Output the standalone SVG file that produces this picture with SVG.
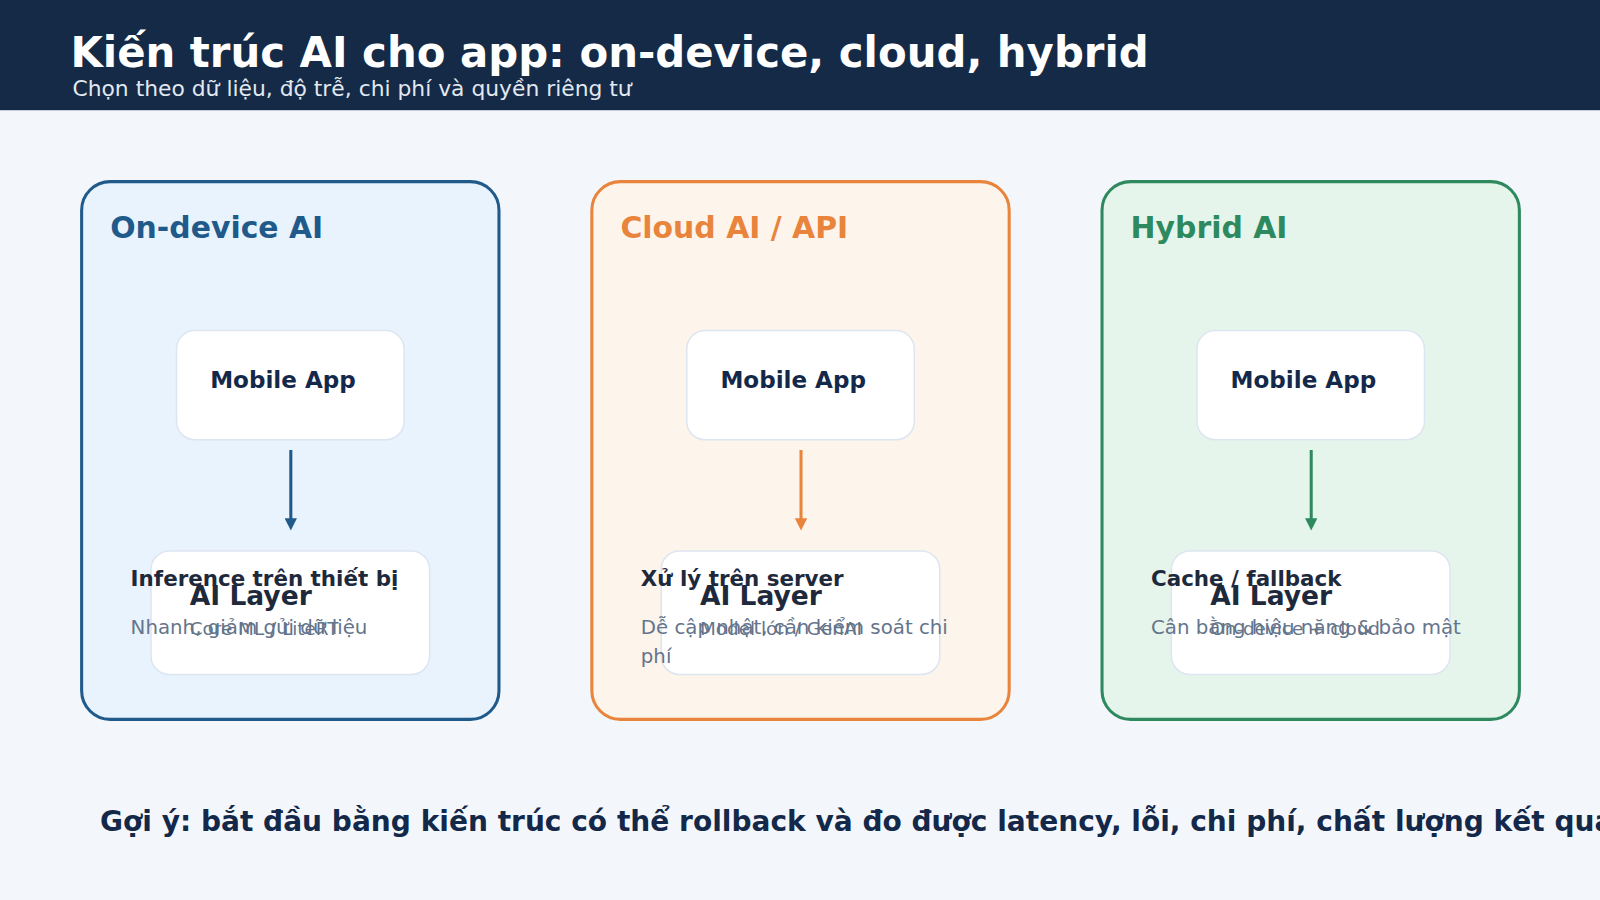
<svg xmlns="http://www.w3.org/2000/svg" width="1600" height="900" viewBox="0 0 1600 900">
<style>
text{font-family:"DejaVu Sans",sans-serif}
.panel{stroke-width:3}
.box{fill:#fff;stroke:#dde6f0;stroke-width:1.5}
.bt{font-size:22.6px;font-weight:bold;fill:#14294a}
.al{font-size:26px;font-weight:bold;fill:#1e293b}
.sub{font-size:18px;fill:#64748b}
.h{font-size:21px;font-weight:bold;fill:#1e293b}
.d{font-size:19.4px;fill:#64748b}
.pt{font-size:29.3px;font-weight:bold}
</style>
<defs>
<marker id="a1" markerWidth="12" markerHeight="12" refX="6" refY="6" orient="auto" markerUnits="userSpaceOnUse" viewBox="0 0 12 12"><path d="M0,0L12,6L0,12z" fill="#1f5a8b"/></marker>
<marker id="a2" markerWidth="12" markerHeight="12" refX="6" refY="6" orient="auto" markerUnits="userSpaceOnUse" viewBox="0 0 12 12"><path d="M0,0L12,6L0,12z" fill="#e8843c"/></marker>
<marker id="a3" markerWidth="12" markerHeight="12" refX="6" refY="6" orient="auto" markerUnits="userSpaceOnUse" viewBox="0 0 12 12"><path d="M0,0L12,6L0,12z" fill="#2e8a5e"/></marker>
</defs>
<rect width="1600" height="900" fill="#f3f7fb"/>
<g transform="scale(1.0204)">
<rect width="1600" height="108" fill="#142a47"/>
<text x="69" y="66" font-size="41" font-weight="bold" fill="#fff">Kiến trúc AI cho app: on-device, cloud, hybrid</text>
<text x="71" y="94" font-size="21.4" fill="#e2e8f0">Chọn theo dữ liệu, độ trễ, chi phí và quyền riêng tư</text>

<g id="panel-ondevice">
<rect class="panel" x="80" y="178" width="409" height="527" rx="28" fill="#e8f3fd" stroke="#1f5a8b"/>
<text class="pt" x="108" y="233" fill="#1f5a8b">On-device AI</text>
</g>
<g id="app1"><rect class="box" x="173" y="324" width="223" height="107" rx="18"/><text class="bt" x="206" y="380">Mobile App</text></g>
<g id="ai1"><rect class="box" x="148" y="540" width="273" height="121" rx="18"/><text class="al" x="186" y="593">AI Layer</text><text class="sub" x="186" y="622">Core ML / LiteRT</text></g>
<g id="t1"><text class="h" x="128" y="574">Inference trên thiết bị</text><text class="d" x="128" y="621">Nhanh, giảm gửi dữ liệu</text></g>

<g id="panel-cloud">
<rect class="panel" x="580" y="178" width="409" height="527" rx="28" fill="#fdf4eb" stroke="#e8843c"/>
<text class="pt" x="608" y="233" fill="#e8843c">Cloud AI / API</text>
</g>
<g id="app2"><rect class="box" x="673" y="324" width="223" height="107" rx="18"/><text class="bt" x="706" y="380">Mobile App</text></g>
<g id="ai2"><rect class="box" x="648" y="540" width="273" height="121" rx="18"/><text class="al" x="686" y="593">AI Layer</text><text class="sub" x="686" y="622">Model lớn / GenAI</text></g>
<g id="t2"><text class="h" x="628" y="574">Xử lý trên server</text><text class="d" x="628" y="621">Dễ cập nhật, cần kiểm soát chi</text><text class="d" x="628" y="650">phí</text></g>

<g id="panel-hybrid">
<rect class="panel" x="1080" y="178" width="409" height="527" rx="28" fill="#e6f5ec" stroke="#2e8a5e"/>
<text class="pt" x="1108" y="233" fill="#2e8a5e">Hybrid AI</text>
</g>
<g id="app3"><rect class="box" x="1173" y="324" width="223" height="107" rx="18"/><text class="bt" x="1206" y="380">Mobile App</text></g>
<g id="ai3"><rect class="box" x="1148" y="540" width="273" height="121" rx="18"/><text class="al" x="1186" y="593">AI Layer</text><text class="sub" x="1186" y="622">On-device + cloud</text></g>
<g id="t3"><text class="h" x="1128" y="574">Cache / fallback</text><text class="d" x="1128" y="621">Cân bằng hiệu năng &amp; bảo mật</text></g>

<g id="connectors" stroke-width="3">
<line x1="285" y1="441" x2="285" y2="514" stroke="#1f5a8b" marker-end="url(#a1)"/>
<line x1="785" y1="441" x2="785" y2="514" stroke="#e8843c" marker-end="url(#a2)"/>
<line x1="1285" y1="441" x2="1285" y2="514" stroke="#2e8a5e" marker-end="url(#a3)"/>
</g>
<text x="98" y="814" font-size="27.5" font-weight="bold" fill="#14294a">Gợi ý: bắt đầu bằng kiến trúc có thể rollback và đo được latency, lỗi, chi phí, chất lượng kết quả</text>
</g>
</svg>
